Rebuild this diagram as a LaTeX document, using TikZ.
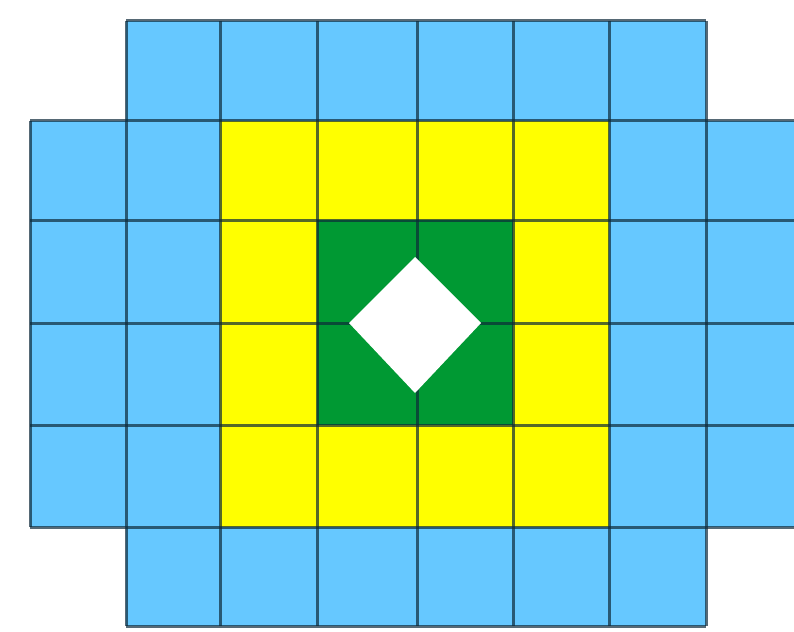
\documentclass[tikz,border=0pt]{standalone}
\definecolor{cellblue}{HTML}{66C8FF}
\definecolor{cellyellow}{HTML}{FFFF00}
\definecolor{cellgreen}{HTML}{009933}
\definecolor{gridline}{HTML}{0E2A3A}
\tikzset{
  gline/.style={draw=gridline, draw opacity=0.7, line width=3pt},
}
\begin{document}
\begin{tikzpicture}[x=1pt,y=-1pt]
\useasboundingbox (0,0) rectangle (794,631);
% blue areas
\fill[cellblue] (126,21) rectangle (706,121);
\fill[cellblue] (30,121) rectangle (794,527);
\fill[cellblue] (126,527) rectangle (706,626);
% yellow ring
\fill[cellyellow] (220,121) rectangle (609,527);
% green centre
\fill[cellgreen] (317,220) rectangle (513,425);
% horizontal grid lines
\draw[gline] (126,21) -- (706,21);
\foreach \y in {121,220,323,425,527} \draw[gline] (30,\y) -- (794,\y);
\draw[gline] (126,626) -- (706,626);
% vertical grid lines
\draw[gline] (30,121) -- (30,527);
\foreach \x in {126,220,317,417,513,609,706} \draw[gline] (\x,21) -- (\x,626);
% white diamond
\fill[white] (415,257) -- (481,323) -- (415,393) -- (349,323) -- cycle;
\end{tikzpicture}
\end{document}
